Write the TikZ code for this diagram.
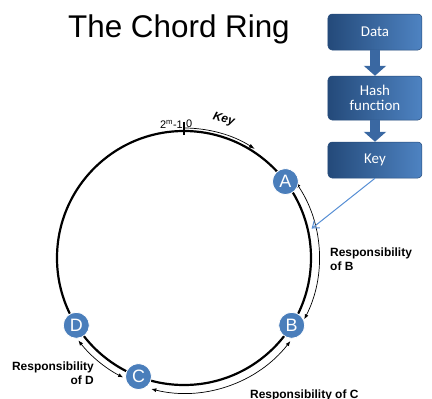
\documentclass[tikz,border=0pt]{standalone}
\usepackage{fontspec}
\setmainfont{Liberation Sans}
\newfontfamily\boxfont{Carlito}
\usetikzlibrary{calc}
\usetikzlibrary{arrows.meta}
\definecolor{ringblue}{RGB}{74,126,187}
\definecolor{boxdark}{RGB}{36,74,122}
\definecolor{boxlight}{RGB}{78,131,194}
\definecolor{flowblue}{RGB}{58,104,162}
\definecolor{lineblue}{RGB}{86,142,212}
\tikzset{%
  peer/.style      = {circle, fill=ringblue, draw=white, line width=0.8bp,
    minimum size=26bp, inner sep=0pt, text=white,
    font=\fontsize{18}{18}\selectfont},
  stage/.style     = {rectangle, rounded corners=4bp, left color=boxdark,
    right color=boxlight, draw=boxdark, line width=0.5bp,
    minimum width=94bp, minimum height=36bp, align=center, text=white,
    font=\boxfont\fontsize{15}{17}\selectfont},
  flow/.style      = {line width=10bp, flowblue,
    -{Triangle[width=22bp, length=10bp]}}, % block arrow
  ring/.style      = {line width=2.2bp},
  resp/.style      = {line width=0.7bp,
    {Latex[length=5bp, width=4bp]}-{Latex[length=5bp, width=4bp]}},
  resplabel/.style = {inner sep=0pt, font=\bfseries\fontsize{12}{14}\selectfont}
}
\begin{document}
\begin{tikzpicture}[x=1bp, y=1bp]
        \useasboundingbox (-184,-141) rectangle (248,258);
        % title
        \node[anchor=base, font=\fontsize{31.5}{36}\selectfont] (title) at (-5,221) {The Chord Ring};
        % hashing chain
        \node[stage] (boxData) at (191,226) {Data};
        \node[stage, minimum height=44bp] (boxHash) at (191,160) {Hash\\[-2bp]function};
        \node[stage] (boxKey) at (191,98) {Key};
        \draw[flow] (boxData.south) -- (boxHash.north);
        \draw[flow] (boxHash.south) -- (boxKey.north);
        % the ring
        \draw[ring] (0,0) circle[radius=127];
        \coordinate (zeroIn) at (90:123);
        \coordinate (zeroOut) at (90:136);
        \draw[line width=1.2bp] (zeroIn) -- (zeroOut);
        \node[anchor=east, inner sep=1bp, font=\fontsize{11}{11}\selectfont] (lastId) at (0,134) {2\textsuperscript{m}-1};
        \node[anchor=west, inner sep=1bp, font=\fontsize{11}{11}\selectfont] (firstId) at (1,134) {0};
        \draw[line width=0.7bp, -{Latex[length=6bp, width=4bp]}] (90:130) arc[start angle=90, end angle=57, radius=130];
        \node[rotate=-16, inner sep=0pt, font=\bfseries\itshape\fontsize{12}{12}\selectfont] (keyLabel) at (74:144) {Key};
        % responsibilities
        \draw[resp] (34:135) arc[start angle=34, end angle=-27, radius=135];
        \draw[resp] (-38:135) arc[start angle=-38, end angle=-104, radius=135];
        \draw[resp] (-117:134) arc[start angle=-117, end angle=-142, radius=134];
        \node[resplabel, anchor=north west, align=left] (respB) at (146,10) {Responsibility\\of B};
        \node[resplabel, anchor=east, align=right] (respD) at (-90,-115) {Responsibility\\of D};
        \node[resplabel, anchor=base west] (respC) at (66,-140) {Responsibility of C};
        % peers
        \node[peer] (peerA) at (37:127) {A};
        \node[peer] (peerB) at (-32:127) {B};
        \node[peer] (peerC) at (-111:127) {C};
        \node[peer] (peerD) at (-148:127) {D};
        % key lands on B
        \coordinate (hitB) at (13:131);
        \draw[lineblue, line width=1bp, -{Straight Barb[length=6bp, width=9bp]}] (boxKey.south) -- (hitB);
\end{tikzpicture}
\end{document}
